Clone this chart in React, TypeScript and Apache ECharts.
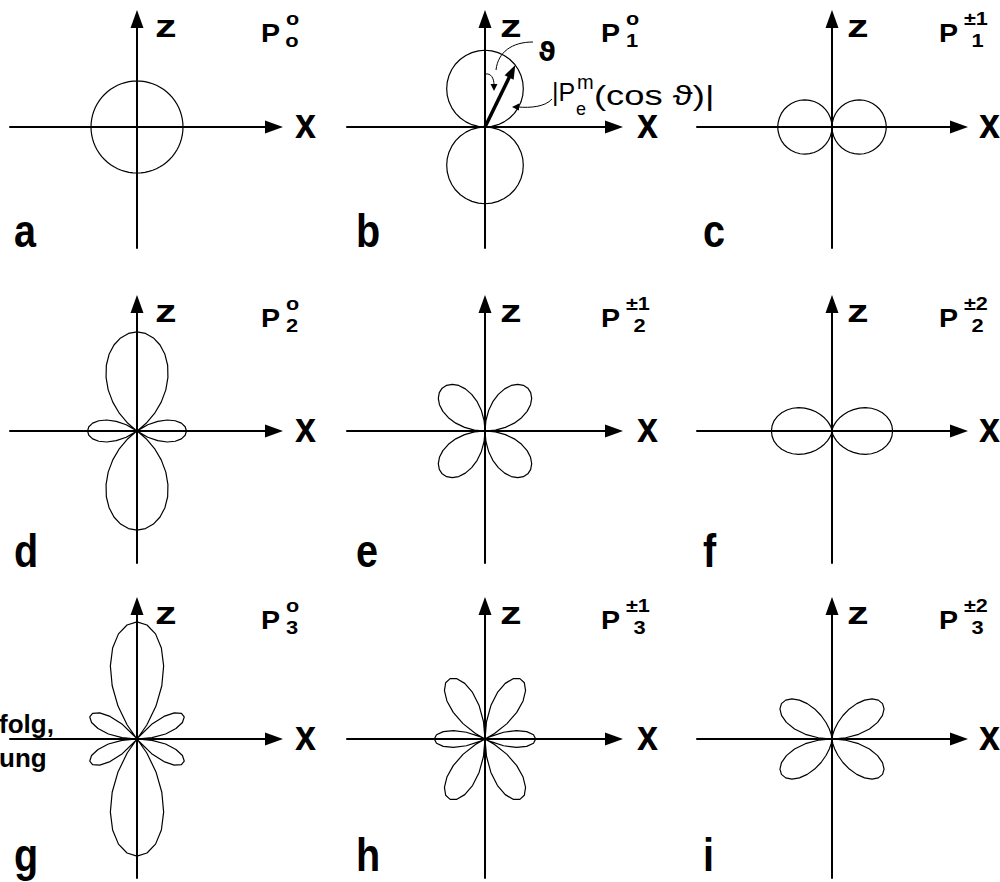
import { useEffect, useRef } from "react";
import * as echarts from "echarts";

// Polar angle samples in degrees, measured from the +z axis towards +x (0°–90°).
// The other three quadrants are mirror images of this quarter.
const THETA = [0, 5, 10, 15, 20, 25, 30, 35, 40, 45, 50, 55, 60, 65, 70, 75, 80, 85, 90];

// |P_l^m(cos θ)| (normalised) at the sample angles above.
const P00 = [0.293, 0.293, 0.293, 0.293, 0.293, 0.293, 0.293, 0.293, 0.293, 0.293, 0.293, 0.293, 0.293, 0.293, 0.293, 0.293, 0.293, 0.293, 0.293];
const P10 = [0.489, 0.487, 0.481, 0.472, 0.459, 0.443, 0.423, 0.4, 0.374, 0.345, 0.314, 0.28, 0.244, 0.206, 0.167, 0.126, 0.085, 0.043, 0];
const P11 = [0, 0.03, 0.06, 0.089, 0.118, 0.146, 0.173, 0.198, 0.222, 0.244, 0.265, 0.283, 0.299, 0.313, 0.325, 0.334, 0.34, 0.344, 0.346];
const P20 = [0.631, 0.624, 0.602, 0.567, 0.52, 0.462, 0.394, 0.32, 0.24, 0.158, 0.076, 0.004, 0.079, 0.146, 0.205, 0.252, 0.287, 0.308, 0.315];
const P21 = [0, 0.067, 0.132, 0.193, 0.248, 0.296, 0.335, 0.363, 0.38, 0.386, 0.38, 0.363, 0.335, 0.296, 0.248, 0.193, 0.132, 0.067, 0];
const P22 = [0, 0.003, 0.012, 0.026, 0.045, 0.069, 0.097, 0.127, 0.16, 0.193, 0.227, 0.259, 0.29, 0.317, 0.341, 0.36, 0.375, 0.383, 0.386];
const P30 = [0.746, 0.729, 0.68, 0.6, 0.496, 0.374, 0.242, 0.109, 0.019, 0.132, 0.224, 0.29, 0.327, 0.332, 0.308, 0.257, 0.185, 0.096, 0];
const P31 = [0, 0.112, 0.216, 0.307, 0.377, 0.424, 0.444, 0.437, 0.402, 0.343, 0.264, 0.171, 0.07, 0.031, 0.126, 0.208, 0.27, 0.31, 0.323];
const P32 = [0, 0.008, 0.03, 0.066, 0.112, 0.165, 0.221, 0.275, 0.323, 0.361, 0.385, 0.393, 0.383, 0.355, 0.309, 0.247, 0.172, 0.088, 0];

// Angles (degrees) where a lobe closes at the origin between two samples.
const NODES_P30 = [39.2];
const NODES_P31 = [63.4];

const PROFILES = [P00, P10, P11, P20, P21, P22, P30, P31, P32];
const NODES = [[], [], [], [], [], [], NODES_P30, NODES_P31, []];

const LETTERS = ["a", "b", "c", "d", "e", "f", "g", "h", "i"];
const UPPER_INDEX = ["o", "o", "±1", "o", "±1", "±2", "o", "±1", "±2"];
const LOWER_INDEX = ["o", "1", "1", "2", "2", "2", "3", "3", "3"];

// Radius vector shown in panel b.
const VECTOR_THETA = 26;
const VECTOR_VALUE = 0.44;

// ---- layout (pixels) ----
const SCALE = 157; // pixels per unit of |P|
const COL_X = [137, 485, 832];
const ROW_Y = [127, 431, 739];
const ROW_TOP = [10, 295, 597];
const ROW_BOTTOM = [248, 563, 878];
const COL_LEFT = [10, 347, 697];
const COL_RIGHT = [283, 623, 968];
const ARROW_W = 13;
const ARROW_L = 18;

const COL_Z = [155, 500, 847];
const COL_P = [261, 601, 939];
const COL_XLABEL = [295, 637, 979];
const COL_LETTER = [14, 356, 703];
const ROW_LETTER_BASE = [247, 567, 871];

const FONT = '"Liberation Sans", Arial, Helvetica, sans-serif';

function profile(values: number[], nodes: number[]): [number, number][] {
  const quarter: [number, number][] = THETA.map((t, i) => [t, values[i]] as [number, number]);
  nodes.forEach((t) => quarter.push([t, 0]));
  quarter.sort((a, b) => a[0] - b[0]);
  const half = quarter.concat(
    quarter.slice(0, -1).reverse().map(([t, r]) => [180 - t, r] as [number, number])
  );
  const full = half.concat(
    half.slice(0, -1).reverse().map(([t, r]) => [360 - t, r] as [number, number])
  );
  return full.map(([t, r]) => [r, t] as [number, number]);
}

function txt(
  text: string,
  x: number,
  y: number,
  size: number,
  opts: { sx?: number; weight?: string; align?: string; family?: string } = {}
) {
  const align = opts.align ?? "left";
  return {
    type: "text",
    x,
    y,
    scaleX: opts.sx ?? 1,
    silent: true,
    z: 20,
    style: {
      text,
      fill: "#000",
      font: `${opts.weight ?? "bold"} ${size}px ${opts.family ?? FONT}`,
      align,
      verticalAlign: "middle",
      textAlign: align,
      textVerticalAlign: "middle",
    },
  };
}

const hiddenAxisParts = {
  axisTick: { show: false },
  axisLabel: { show: false },
  splitLine: { show: false },
};

function buildOption() {
  const polar: any[] = [];
  const angleAxis: any[] = [];
  const radiusAxis: any[] = [];
  const grid: any[] = [];
  const xAxis: any[] = [];
  const yAxis: any[] = [];
  const series: any[] = [];
  const graphic: any[] = [];

  for (let i = 0; i < 9; i++) {
    const col = i % 3;
    const row = Math.floor(i / 3);
    const ox = COL_X[col];
    const oy = ROW_Y[row];

    polar.push({ center: [ox, oy], radius: SCALE });
    angleAxis.push({
      polarIndex: i,
      type: "value",
      min: 0,
      max: 360,
      startAngle: 90,
      clockwise: true,
      axisLine: { show: false },
      ...hiddenAxisParts,
    });
    radiusAxis.push({
      polarIndex: i,
      type: "value",
      min: 0,
      max: 1,
      axisLine: { show: false },
      ...hiddenAxisParts,
    });

    // x / z coordinate axes crossing at the origin, with arrow heads
    const left = COL_LEFT[col];
    const right = COL_RIGHT[col] - ARROW_L / 2;
    const top = ROW_TOP[row] + ARROW_L / 2;
    const bottom = ROW_BOTTOM[row];
    grid.push({ left, top, width: right - left, height: bottom - top });
    const axisLine = {
      show: true,
      onZero: true,
      symbol: ["none", "triangle"],
      symbolSize: [ARROW_W, ARROW_L],
      lineStyle: { color: "#000", width: 2 },
    };
    xAxis.push({ gridIndex: i, type: "value", min: left - ox, max: right - ox, axisLine, ...hiddenAxisParts });
    yAxis.push({ gridIndex: i, type: "value", min: oy - bottom, max: oy - top, axisLine, ...hiddenAxisParts });

    series.push({
      type: "line",
      coordinateSystem: "polar",
      polarIndex: i,
      data: profile(PROFILES[i], NODES[i]),
      symbol: "none",
      silent: true,
      z: 5,
      lineStyle: { color: "#000", width: 1.2 },
    });

    // labels
    const t = ROW_TOP[row];
    const px = COL_P[col];
    const upper = UPPER_INDEX[i];
    const upperW = upper.length > 1 ? 27 : 12;
    graphic.push(txt("z", COL_Z[col], t + 16, 32, { sx: 1.35 }));
    graphic.push(txt("P", px, t + 23, 26, { sx: 1.1 }));
    graphic.push(txt(upper, px + 25, t + 9, 18, { sx: 1.2 }));
    graphic.push(txt(LOWER_INDEX[i], px + 25 + upperW / 2, t + 30, 19, { sx: 1.15, align: "center" }));
    graphic.push(txt("x", COL_XLABEL[col], oy - 4, 43, { sx: 0.88 }));
    graphic.push(txt(LETTERS[i], COL_LETTER[col], ROW_LETTER_BASE[row] - 16, 46, { sx: 0.86 }));
  }

  // radius vector in panel b
  series.push({
    type: "line",
    coordinateSystem: "polar",
    polarIndex: 1,
    silent: true,
    z: 6,
    symbol: "none",
    lineStyle: { color: "#000", width: 3.5 },
    itemStyle: { color: "#000" },
    data: [
      { value: [0, VECTOR_THETA], symbol: "none" },
      {
        value: [VECTOR_VALUE - 7 / SCALE, VECTOR_THETA],
        symbol: "triangle",
        symbolSize: [10, 14],
        symbolRotate: -VECTOR_THETA,
      },
    ],
  });

  const thin = { stroke: "#000", lineWidth: 1, fill: "none" };
  // ϑ with its leader and the angle hook
  graphic.push(txt("ϑ", 538, 51, 27, { weight: "bold", family: '"DejaVu Sans", sans-serif' }));
  graphic.push({
    type: "bezierCurve",
    silent: true,
    z: 20,
    shape: { x1: 533, y1: 42, cpx1: 512, cpy1: 42, cpx2: 498, cpy2: 52, x2: 496, y2: 70 },
    style: thin,
  });
  graphic.push({
    type: "bezierCurve",
    silent: true,
    z: 20,
    shape: { x1: 485, y1: 74, cpx1: 491, cpy1: 73, cpx2: 494, cpy2: 78, x2: 494, y2: 85 },
    style: thin,
  });
  graphic.push({
    type: "polygon",
    silent: true,
    z: 20,
    shape: { points: [[490.5, 84], [497.5, 84], [494, 91]] },
    style: { fill: "#000" },
  });
  // |P_e^m(cos ϑ)| with its leader
  graphic.push({
    type: "bezierCurve",
    silent: true,
    z: 20,
    shape: { x1: 552, y1: 99, cpx1: 545, cpy1: 107, cpx2: 530, cpy2: 108, x2: 518, y2: 107 },
    style: thin,
  });
  graphic.push({
    type: "polygon",
    silent: true,
    z: 20,
    shape: { points: [[512, 107], [519, 103.5], [519, 110.5]] },
    style: { fill: "#000" },
  });
  graphic.push(txt("|P", 552, 92, 25, { weight: "normal" }));
  graphic.push(txt("m", 577, 82, 20, { weight: "normal" }));
  graphic.push(txt("e", 576, 109, 18, { weight: "normal" }));
  graphic.push(txt("(cos ϑ)|", 594, 96, 28, { weight: "normal", sx: 1.3 }));

  // text cut off at the left edge
  graphic.push(txt("folg,", -1, 724, 26, { sx: 1.0 }));
  graphic.push(txt("ung", -1, 758, 26, { sx: 1.0 }));

  return {
    animation: false,
    backgroundColor: "#fff",
    polar,
    angleAxis,
    radiusAxis,
    grid,
    xAxis,
    yAxis,
    series,
    graphic: { elements: graphic },
  };
}

export default function App() {
  const ref = useRef<HTMLDivElement>(null);
  useEffect(() => {
    if (!ref.current) return;
    const chart = echarts.init(ref.current, null, { renderer: "svg" });
    chart.setOption(buildOption() as any);
    return () => chart.dispose();
  }, []);
  return (
    <div
      ref={ref}
      style={{ position: "absolute", left: 0, top: 0, width: 1000, height: 882, background: "#fff" }}
    />
  );
}
